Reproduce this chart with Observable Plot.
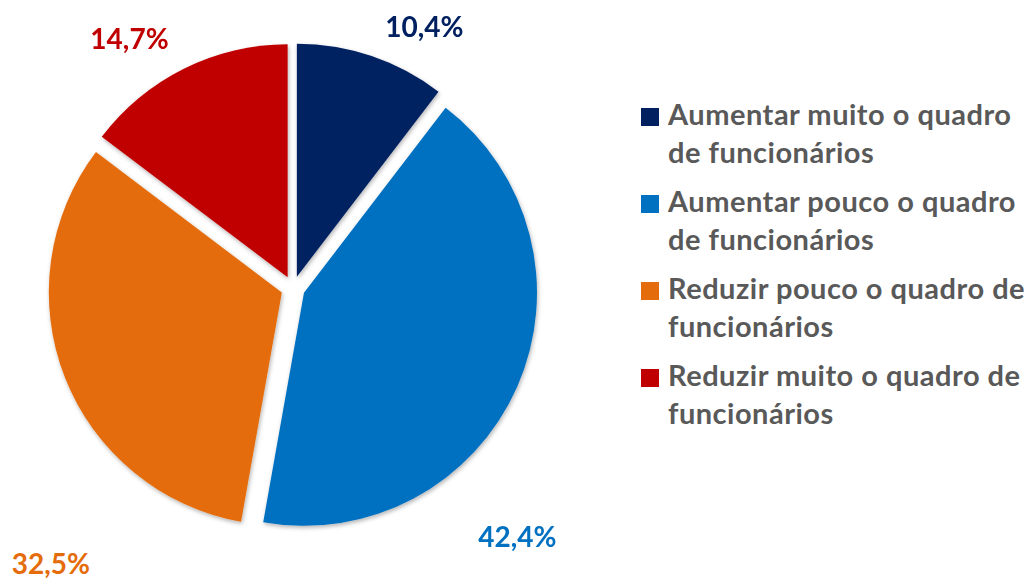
<!DOCTYPE html>
<html>
<head>
<meta charset="utf-8">
<script src="https://cdn.jsdelivr.net/npm/d3@7"></script>
<script src="https://cdn.jsdelivr.net/npm/@observablehq/plot@0.6"></script>
<style>
  html, body { margin: 0; padding: 0; background: #ffffff; }
  #wrap { position: relative; width: 1029px; height: 580px; overflow: hidden; }
  #chart { position: absolute; left: 0; top: 0; }
  #legend { position: absolute; left: 0; top: 0; font-family: Lato, "Open Sans", sans-serif; font-weight: 700; font-size: 29px; letter-spacing: 0.5px; color: #595959; }
  .item { position: absolute; left: 641px; }
  .sw { position: absolute; left: 0; top: 13px; width: 18px; height: 18px; }
  .tx { position: absolute; left: 27px; top: 0; line-height: 38px; white-space: nowrap; }
</style>
</head>
<body>
<div id="wrap">
  <div id="chart"></div>
  <div id="legend"></div>
</div>
<script>
// ---- data ----
const categories = [
  "Aumentar muito o quadro de funcionários",
  "Aumentar pouco o quadro de funcionários",
  "Reduzir pouco o quadro de funcionários",
  "Reduzir muito o quadro de funcionários"
];
const legendLines = [
  ["Aumentar muito o quadro", "de funcionários"],
  ["Aumentar pouco o quadro", "de funcionários"],
  ["Reduzir pouco o quadro de", "funcionários"],
  ["Reduzir muito o quadro de", "funcionários"]
];
const values = [10.4, 42.4, 32.5, 14.7];
const valueLabels = ["10,4%", "42,4%", "32,5%", "14,7%"];
const colors = ["#002060", "#0070C0", "#E46C0A", "#C00000"];
// label anchor positions (in pie-radius units, relative to pie centre)
const labelX = [0.562, 0.961, -1.041, -0.704];
const labelY = [1.12, -1.069, -1.186, 1.067];
const explode = 0.0515;

// ---- build slices ----
const arcs = d3.pie().sort(null).value(d => d)(values);
const slices = arcs.map((a, i) => ({
  category: categories[i],
  value: values[i],
  label: valueLabels[i],
  start: a.startAngle,
  end: a.endAngle,
  mid: (a.startAngle + a.endAngle) / 2,
  lx: labelX[i],
  ly: labelY[i]
}));

const chart = Plot.plot({
  width: 1029,
  height: 580,
  margin: 0,
  x: { domain: [-1, 1], range: [60, 526], axis: null },
  y: { domain: [-1, 1], range: [521, 55], axis: null },
  color: { domain: categories, range: colors },
  style: { background: "transparent", overflow: "visible" },
  marks: [
    Plot.dot(slices, {
      x: d => explode * Math.sin(d.mid),
      y: d => explode * Math.cos(d.mid),
      fill: "category",
      render(index, scales, vals) {
        const r = Math.abs(scales.x(1) - scales.x(0));
        const arc = d3.arc().innerRadius(0).outerRadius(r);
        const g = d3.create("svg:g").attr("filter", "url(#pieShadow)");
        for (const i of index) {
          g.append("path")
            .attr("transform", `translate(${vals.x[i]},${vals.y[i]})`)
            .attr("d", arc({ startAngle: slices[i].start, endAngle: slices[i].end }))
            .attr("fill", vals.fill[i]);
        }
        return g.node();
      }
    }),
    Plot.text(slices, {
      x: "lx",
      y: "ly",
      text: "label",
      fill: "category",
      fontSize: 28,
      fontWeight: "bold",
      fontFamily: "Lato, 'Open Sans', sans-serif",
      textAnchor: "middle"
    })
  ]
});

d3.select(chart).insert("defs", ":first-child").html(
  `<filter id="pieShadow" x="-10%" y="-10%" width="120%" height="120%">
     <feDropShadow dx="1" dy="2" stdDeviation="2.2" flood-color="#000" flood-opacity="0.3"/>
   </filter>`
);
document.getElementById("chart").appendChild(chart);

// ---- legend ----
const legend = d3.select("#legend");
const itemTops = [95, 182, 269, 356];
categories.forEach((c, i) => {
  const item = legend.append("div").attr("class", "item").style("top", itemTops[i] + "px");
  item.append("div").attr("class", "sw").style("background", colors[i]);
  item.append("div").attr("class", "tx").html(legendLines[i].join("<br>"));
});
</script>
</body>
</html>
